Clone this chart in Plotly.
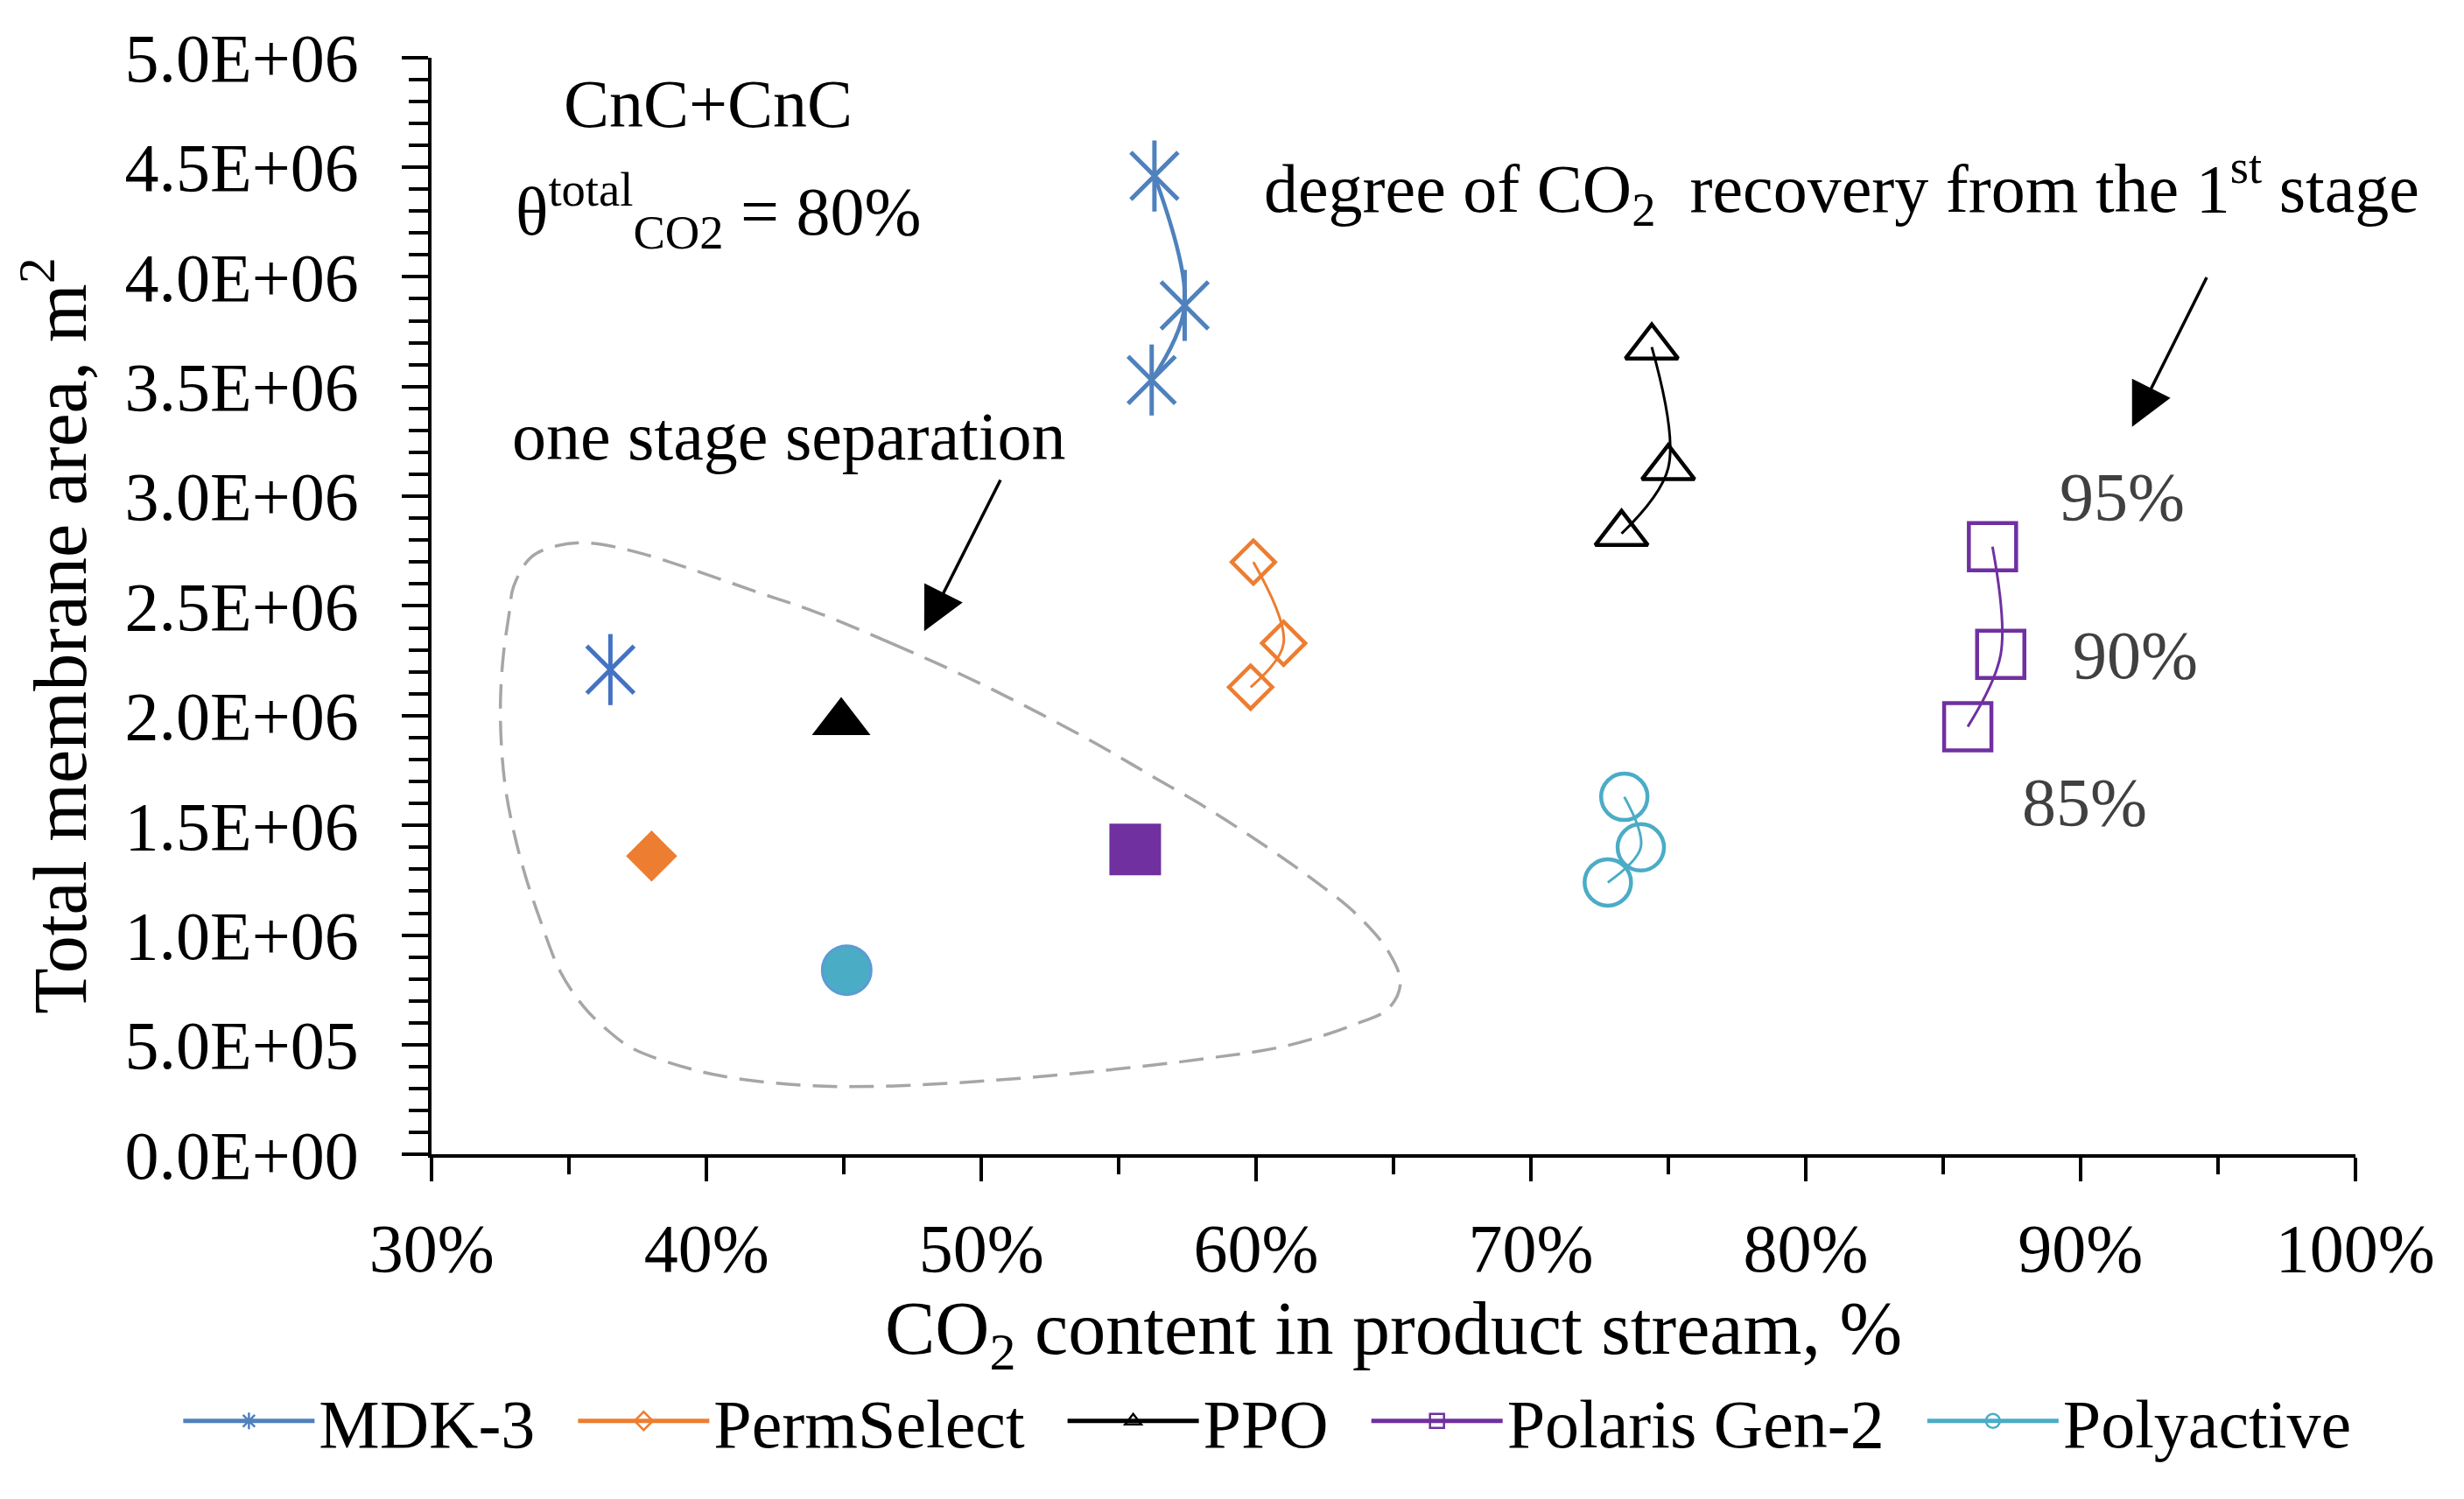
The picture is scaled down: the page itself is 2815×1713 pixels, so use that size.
import plotly.graph_objects as go

# ---------------- data ----------------
series_names = ["MDK-3", "PermSelect", "PPO", "Polaris Gen-2", "Polyactive"]
recovery_labels = ["95%", "90%", "85%"]

# two-stage (CnC+CnC) results for 95 %, 90 %, 85 % CO2 recovery in the 1st stage
mdk3_x = [56.3, 57.4, 56.2]
mdk3_y = [4.46e6, 3.87e6, 3.53e6]
permselect_x = [59.9, 61.0, 59.8]
permselect_y = [2.70e6, 2.33e6, 2.13e6]
ppo_x = [74.4, 75.0, 73.3]
ppo_y = [3.68e6, 3.13e6, 2.83e6]
polaris_x = [86.8, 87.1, 85.9]
polaris_y = [2.77e6, 2.28e6, 1.95e6]
polyactive_x = [73.4, 74.0, 72.8]
polyactive_y = [1.63e6, 1.40e6, 1.24e6]

# one stage separation (MDK-3, PermSelect, PPO, Polaris Gen-2, Polyactive)
single_x = [36.5, 38.0, 44.9, 55.6, 45.1]
single_y = [2.21e6, 1.36e6, 1.97e6, 1.39e6, 0.84e6]

# dashed outline around the one-stage points
outline_x = [49.33, 46.78, 44.03, 41.73, 39.44, 37.44, 35.72, 34.58, 33.61, 32.98,
             32.82, 32.60, 32.50, 32.53, 32.68, 32.98, 33.40, 33.93, 34.67, 35.52,
             36.37, 37.22, 38.54, 40.50, 43.45, 46.39, 50.31, 54.23, 58.15, 61.09,
             63.64, 64.82, 65.25, 64.82, 63.64, 62.07, 60.11, 58.15, 56.19, 54.23,
             51.88, 49.33]
outline_y = [2.184e6, 2.327e6, 2.470e6, 2.568e6, 2.668e6, 2.746e6, 2.787e6, 2.775e6, 2.722e6, 2.590e6,
             2.470e6, 2.270e6, 2.071e6, 1.872e6, 1.672e6, 1.473e6, 1.273e6, 1.074e6, 0.835e6, 0.675e6,
             0.569e6, 0.489e6, 0.423e6, 0.359e6, 0.316e6, 0.311e6, 0.337e6, 0.380e6, 0.437e6, 0.495e6,
             0.595e6, 0.666e6, 0.781e6, 0.924e6, 1.096e6, 1.253e6, 1.425e6, 1.583e6, 1.726e6, 1.869e6,
             2.026e6, 2.184e6]

x_tickvals = [30, 40, 50, 60, 70, 80, 90, 100]
x_ticktext = ["30%", "40%", "50%", "60%", "70%", "80%", "90%", "100%"]
y_tickvals = [0, 0.5e6, 1.0e6, 1.5e6, 2.0e6, 2.5e6, 3.0e6, 3.5e6, 4.0e6, 4.5e6, 5.0e6]
y_ticktext = ["0.0E+00", "5.0E+05", "1.0E+06", "1.5E+06", "2.0E+06", "2.5E+06",
              "3.0E+06", "3.5E+06", "4.0E+06", "4.5E+06", "5.0E+06"]

two_stage_x = [mdk3_x, permselect_x, ppo_x, polaris_x, polyactive_x]
two_stage_y = [mdk3_y, permselect_y, ppo_y, polaris_y, polyactive_y]

# ---------------- styles ----------------
FONT = "Liberation Serif"
FS = 78
TITLE_FS = 86
colors = ["#4F81BD", "#ED7D31", "#000000", "#7030A0", "#4BACC6"]
single_colors = ["#4472C4", "#ED7D31", "#000000", "#7030A0", "#4BACC6"]
open_symbols = ["x-thin", "diamond-open", "triangle-up-open", "square-open", "circle-open"]
open_sizes = [54, 38, 52, 54, 53]
line_widths = [4.5, 3, 3, 3, 3]
filled_symbols = ["x-thin", "diamond", "triangle-up", "square", "circle"]
filled_sizes = [54, 45, 58, 59, 56]
legend_symbols = ["asterisk-open", "diamond-open", "triangle-up-open", "square-open", "circle-open"]
legend_gap = "\u00a0\u00a0"

fig = go.Figure()

# outline of the one-stage group
fig.add_trace(go.Scatter(
    x=outline_x, y=outline_y, mode="lines",
    line=dict(color="#A6A6A6", width=3.5, dash="28px,14px", shape="spline", smoothing=1.0),
    showlegend=False, hoverinfo="skip"))

# two-stage series
for i, name in enumerate(series_names):
    fig.add_trace(go.Scatter(
        x=two_stage_x[i], y=two_stage_y[i], mode="lines+markers", name=name,
        text=recovery_labels,
        line=dict(color=colors[i], width=line_widths[i], shape="spline", smoothing=1.0),
        marker=dict(symbol=open_symbols[i], size=open_sizes[i], color=colors[i],
                    line=dict(color=colors[i], width=4.5 if i else 5)),
        showlegend=False))
    if i == 0:
        fig.add_trace(go.Scatter(
            x=two_stage_x[i], y=two_stage_y[i], mode="markers",
            marker=dict(symbol="line-ns", size=58, color=colors[i],
                        line=dict(color=colors[i], width=5)),
            showlegend=False, hoverinfo="skip"))

# one-stage points
for i, name in enumerate(series_names):
    if i == 0:
        mk = dict(symbol="x-thin", size=filled_sizes[i], color=single_colors[i],
                  line=dict(color=single_colors[i], width=5))
    elif i == 4:
        mk = dict(symbol="circle", size=filled_sizes[i], color=single_colors[i],
                  line=dict(color="#5B9BD5", width=3))
    else:
        mk = dict(symbol=filled_symbols[i], size=filled_sizes[i], color=single_colors[i],
                  line=dict(width=0))
    fig.add_trace(go.Scatter(x=[single_x[i]], y=[single_y[i]], mode="markers",
                             marker=mk, showlegend=False, name=name + " (one stage)"))
    if i == 0:
        fig.add_trace(go.Scatter(
            x=[single_x[i]], y=[single_y[i]], mode="markers",
            marker=dict(symbol="line-ns", size=58, color=single_colors[i],
                        line=dict(color=single_colors[i], width=5)),
            showlegend=False, hoverinfo="skip"))

# legend entries
for i, name in enumerate(series_names):
    fig.add_trace(go.Scatter(
        x=[None], y=[None], mode="lines+markers",
        name=name + (legend_gap if i < len(series_names) - 1 else ""),
        line=dict(color=colors[i], width=5),
        marker=dict(symbol=legend_symbols[i], size=16, color=colors[i],
                    line=dict(color=colors[i], width=2.5))))

# ---------------- annotations ----------------
ann = []
# y-axis title (placed as annotation to match the reference's vertical offset)
ann.append(dict(x=0.0195, y=0.5809, xref="paper", yref="paper",
                text="Total membrane area, m<sup>2</sup>", textangle=-90, showarrow=False,
                xanchor="center", yanchor="middle", font=dict(size=TITLE_FS)))
ann.append(dict(x=40.05, y=4.79e6, text="CnC+CnC", showarrow=False,
                xanchor="center", yanchor="middle"))
ann.append(dict(x=33.0, y=4.30e6, text="θ<sup>total</sup><sub>CO2</sub> = 80%", showarrow=False,
                xanchor="left", yanchor="middle"))
ann.append(dict(x=32.86, y=3.274e6, text="one stage separation", showarrow=False,
                xanchor="left", yanchor="middle"))
ann.append(dict(x=60.22, y=4.405e6, text="degree of CO<sub>2</sub>  recovery from the 1<sup>st</sup> stage",
                showarrow=False, xanchor="left", yanchor="middle"))
label_pos = [(91.53, 3.00e6), (91.99, 2.278e6), (90.16, 1.605e6)]
for lbl, (lx, ly) in zip(recovery_labels, label_pos):
    ann.append(dict(x=lx, y=ly, text=lbl, showarrow=False, xanchor="center", yanchor="middle",
                    font=dict(color="#404040")))
# arrows
ann.append(dict(x=47.92, y=2.385e6, ax=50.72, ay=3.08e6, axref="x", ayref="y", text="",
                showarrow=True, arrowhead=2, arrowsize=2.8, arrowwidth=3.5, arrowcolor="black",
                standoff=0))
ann.append(dict(x=91.88, y=3.317e6, ax=94.62, ay=4.004e6, axref="x", ayref="y", text="",
                showarrow=True, arrowhead=2, arrowsize=2.8, arrowwidth=3.5, arrowcolor="black",
                standoff=0))

fig.update_layout(
    template="none",
    width=2815, height=1713,
    margin=dict(l=0, r=0, t=0, b=0),
    paper_bgcolor="white", plot_bgcolor="white",
    font=dict(family=FONT, size=FS, color="black"),
    annotations=ann,
    showlegend=True,
    legend=dict(orientation="h", x=0.5115, xanchor="center", y=0.0566, yanchor="middle",
                font=dict(family=FONT, size=FS, color="black"), itemwidth=150,
                bgcolor="rgba(0,0,0,0)", traceorder="normal"),
    xaxis=dict(domain=[0.17240, 0.95300], range=[30, 100], tickmode="array",
               tickvals=x_tickvals, ticktext=x_ticktext,
               ticks="outside", ticklen=27, tickwidth=3.5, tickcolor="black",
               showline=True, linewidth=4, linecolor="black",
               showgrid=False, zeroline=False, automargin=False,
               ticklabelstandoff=9,
               minor=dict(ticks="outside", tick0=30, dtick=5, ticklen=19, tickwidth=3.5,
                          tickcolor="black", showgrid=False),
               title=dict(text="CO<sub>2</sub> content in product stream, %", standoff=8,
                          font=dict(family=FONT, size=TITLE_FS))),
    yaxis=dict(domain=[0.23450, 0.96632], range=[0, 5.0e6], tickmode="array",
               tickvals=y_tickvals, ticktext=y_ticktext,
               ticks="outside", ticklen=30, tickwidth=3.5, tickcolor="black",
               showline=True, linewidth=4, linecolor="black",
               showgrid=False, zeroline=False, automargin=False,
               ticklabelstandoff=34,
               minor=dict(ticks="outside", tick0=0, dtick=1e5, ticklen=22, tickwidth=3.5,
                          tickcolor="black", showgrid=False)),
)

fig.write_html("out.html")
